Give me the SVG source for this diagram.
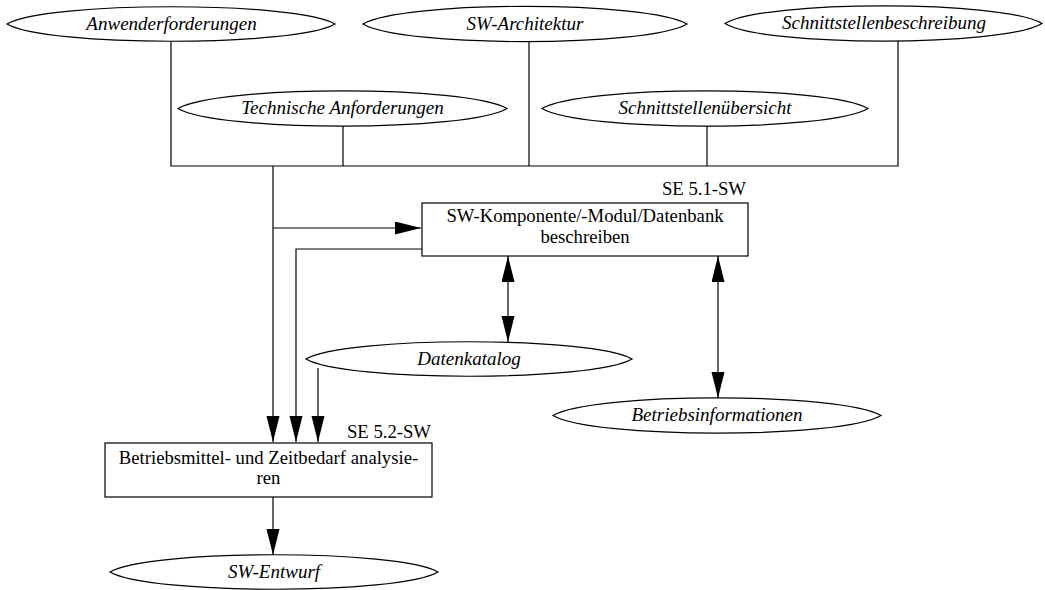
<svg xmlns="http://www.w3.org/2000/svg" width="1045" height="590" viewBox="0 0 1045 590" font-family="'Liberation Serif', 'Times New Roman', 'DejaVu Serif', serif">
  <style>
    .oval { fill: #ffffff; stroke: #000000; stroke-width: 1.2; }
    .box { fill: #ffffff; stroke: #000000; stroke-width: 1.2; }
    .wire { fill: none; stroke: #000000; stroke-width: 1.2; }
    .it { font-style: italic; font-size: 19px; fill: #000000; text-anchor: middle; }
    .rm { font-size: 18.7px; fill: #000000; text-anchor: middle; }
    .tag { font-size: 18.7px; fill: #000000; text-anchor: end; }
  </style>
  <defs>
    <marker id="head" markerUnits="userSpaceOnUse" markerWidth="27" markerHeight="14" refX="26" refY="6.5" orient="auto-start-reverse">
      <path d="M0,0 L26,6.5 L0,13 Z" fill="#000000"/>
    </marker>
  </defs>

  <rect width="1045" height="590" fill="#ffffff"/>

  <!-- connectors -->
  <g id="connectors">
    <!-- collecting bus from the input documents -->
    <path class="wire" d="M171,41 V166 H898 V40"/>
    <path class="wire" d="M529,40 V166"/>
    <path class="wire" d="M343,126 V166"/>
    <path class="wire" d="M707,126 V166"/>
    <!-- trunk down to SE 5.2 -->
    <path class="wire" d="M273,166 V442" marker-end="url(#head)"/>
    <!-- branch into SE 5.1 -->
    <path class="wire" d="M273,228 H421" marker-end="url(#head)"/>
    <!-- SE 5.1 output down to SE 5.2 -->
    <path class="wire" d="M422,249 H296 V442" marker-end="url(#head)"/>
    <!-- Datenkatalog down to SE 5.2 -->
    <path class="wire" d="M318,368 V442" marker-end="url(#head)"/>
    <!-- SE 5.1 <-> Datenkatalog -->
    <path class="wire" d="M508,256 V342" marker-start="url(#head)" marker-end="url(#head)"/>
    <!-- SE 5.1 <-> Betriebsinformationen -->
    <path class="wire" d="M718,256 V398" marker-start="url(#head)" marker-end="url(#head)"/>
    <!-- SE 5.2 -> SW-Entwurf -->
    <path class="wire" d="M273,497 V555" marker-end="url(#head)"/>
  </g>

  <!-- input documents -->
  <g id="anwenderforderungen">
    <path class="oval" d="M7,24 C46,1 296,1 335,24 C296,47 46,47 7,24 Z"/>
    <text class="it" x="171.5" y="29.5">Anwenderforderungen</text>
  </g>
  <g id="sw-architektur">
    <path class="oval" d="M363,24 C402,0.5 648,0.5 687,24 C648,47.5 402,47.5 363,24 Z"/>
    <text class="it" x="525" y="29.5">SW-Architektur</text>
  </g>
  <g id="schnittstellenbeschreibung">
    <path class="oval" d="M725,23.5 C763,0 1004,0 1042,23.5 C1004,47 763,47 725,23.5 Z"/>
    <text class="it" x="884" y="29">Schnittstellenbeschreibung</text>
  </g>
  <g id="technische-anforderungen">
    <path class="oval" d="M178,108.5 C217,85 468,85 507,108.5 C468,132 217,132 178,108.5 Z"/>
    <text class="it" x="342.5" y="114">Technische Anforderungen</text>
  </g>
  <g id="schnittstellenuebersicht">
    <path class="oval" d="M542,108.5 C581,85 829,85 868,108.5 C829,132 581,132 542,108.5 Z"/>
    <text class="it" x="705" y="114">Schnittstellenübersicht</text>
  </g>

  <!-- activity SE 5.1 -->
  <g id="se-5-1-sw">
    <text class="tag" x="746" y="195">SE 5.1-SW</text>
    <rect class="box" x="422" y="203" width="326" height="53"/>
    <text class="rm" x="585" y="222">SW-Komponente/-Modul/Datenbank</text>
    <text class="rm" x="585" y="243">beschreiben</text>
  </g>

  <g id="datenkatalog">
    <path class="oval" d="M306,359 C345,336 593,336 632,359 C593,382 345,382 306,359 Z"/>
    <text class="it" x="469" y="365">Datenkatalog</text>
  </g>
  <g id="betriebsinformationen">
    <path class="oval" d="M553,415.5 C592,392 842,392 881,415.5 C842,439 592,439 553,415.5 Z"/>
    <text class="it" x="717" y="421">Betriebsinformationen</text>
  </g>

  <!-- activity SE 5.2 -->
  <g id="se-5-2-sw">
    <text class="tag" x="431" y="438">SE 5.2-SW</text>
    <rect class="box" x="105" y="443" width="327" height="54"/>
    <text class="rm" x="268.5" y="464">Betriebsmittel- und Zeitbedarf analysie-</text>
    <text class="rm" x="268.5" y="484">ren</text>
  </g>

  <g id="sw-entwurf">
    <path class="oval" d="M110,572 C149,549 399,549 438,572 C399,595 149,595 110,572 Z"/>
    <text class="it" x="274" y="578">SW-Entwurf</text>
  </g>
</svg>
